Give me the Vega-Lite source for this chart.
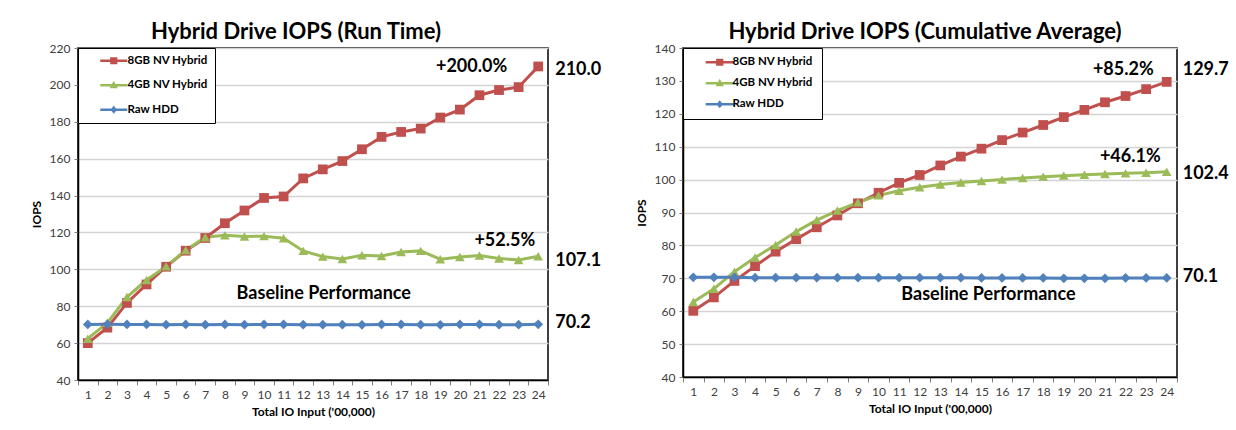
{
  "$schema": "https://vega.github.io/schema/vega-lite/v6.json",
  "padding": {"left": 29, "top": 20, "right": 0, "bottom": 0},
  "background": "white",
  "config": {
    "font": "Lato",
    "view": {"stroke": "black", "strokeWidth": 1.5},
    "title": {"font": "Lato", "fontSize": 22, "fontWeight": "bold", "color": "black", "offset": -2, "anchor": "middle"},
    "axis": {"labelFont": "Lato", "labelFontSize": 12, "labelColor": "#404040", "titleFont": "Lato", "titleFontSize": 12, "titleFontWeight": "bold", "titleColor": "black", "tickColor": "#808080", "domainColor": "black", "domainWidth": 1.5, "gridColor": "#D4D4D4", "gridWidth": 1.5},
    "legend": {"labelFont": "Lato", "labelFontSize": 11.5, "labelFontWeight": "bold", "labelColor": "black"}
  },
  "datasets": {
    "runtime": [
      {"io": 1, "series": "8GB NV Hybrid", "iops": 60.0}, {"io": 2, "series": "8GB NV Hybrid", "iops": 68.4}, {"io": 3, "series": "8GB NV Hybrid", "iops": 81.8}, {"io": 4, "series": "8GB NV Hybrid", "iops": 91.8},
      {"io": 5, "series": "8GB NV Hybrid", "iops": 101.4}, {"io": 6, "series": "8GB NV Hybrid", "iops": 110.1}, {"io": 7, "series": "8GB NV Hybrid", "iops": 117.0}, {"io": 8, "series": "8GB NV Hybrid", "iops": 125.0},
      {"io": 9, "series": "8GB NV Hybrid", "iops": 131.9}, {"io": 10, "series": "8GB NV Hybrid", "iops": 138.7}, {"io": 11, "series": "8GB NV Hybrid", "iops": 139.5}, {"io": 12, "series": "8GB NV Hybrid", "iops": 149.3},
      {"io": 13, "series": "8GB NV Hybrid", "iops": 154.2}, {"io": 14, "series": "8GB NV Hybrid", "iops": 158.7}, {"io": 15, "series": "8GB NV Hybrid", "iops": 165.1}, {"io": 16, "series": "8GB NV Hybrid", "iops": 171.8},
      {"io": 17, "series": "8GB NV Hybrid", "iops": 174.5}, {"io": 18, "series": "8GB NV Hybrid", "iops": 176.3}, {"io": 19, "series": "8GB NV Hybrid", "iops": 182.3}, {"io": 20, "series": "8GB NV Hybrid", "iops": 186.6},
      {"io": 21, "series": "8GB NV Hybrid", "iops": 194.4}, {"io": 22, "series": "8GB NV Hybrid", "iops": 197.2}, {"io": 23, "series": "8GB NV Hybrid", "iops": 198.8}, {"io": 24, "series": "8GB NV Hybrid", "iops": 210.0},
      {"io": 1, "series": "4GB NV Hybrid", "iops": 62.4}, {"io": 2, "series": "4GB NV Hybrid", "iops": 71.0}, {"io": 3, "series": "4GB NV Hybrid", "iops": 85.0}, {"io": 4, "series": "4GB NV Hybrid", "iops": 94.2},
      {"io": 5, "series": "4GB NV Hybrid", "iops": 101.6}, {"io": 6, "series": "4GB NV Hybrid", "iops": 110.4}, {"io": 7, "series": "4GB NV Hybrid", "iops": 117.4}, {"io": 8, "series": "4GB NV Hybrid", "iops": 118.5},
      {"io": 9, "series": "4GB NV Hybrid", "iops": 117.8}, {"io": 10, "series": "4GB NV Hybrid", "iops": 118.0}, {"io": 11, "series": "4GB NV Hybrid", "iops": 116.9}, {"io": 12, "series": "4GB NV Hybrid", "iops": 110.0},
      {"io": 13, "series": "4GB NV Hybrid", "iops": 106.9}, {"io": 14, "series": "4GB NV Hybrid", "iops": 105.6}, {"io": 15, "series": "4GB NV Hybrid", "iops": 107.6}, {"io": 16, "series": "4GB NV Hybrid", "iops": 107.2},
      {"io": 17, "series": "4GB NV Hybrid", "iops": 109.4}, {"io": 18, "series": "4GB NV Hybrid", "iops": 110.0}, {"io": 19, "series": "4GB NV Hybrid", "iops": 105.5}, {"io": 20, "series": "4GB NV Hybrid", "iops": 106.7},
      {"io": 21, "series": "4GB NV Hybrid", "iops": 107.5}, {"io": 22, "series": "4GB NV Hybrid", "iops": 105.9}, {"io": 23, "series": "4GB NV Hybrid", "iops": 105.1}, {"io": 24, "series": "4GB NV Hybrid", "iops": 107.1},
      {"io": 1, "series": "Raw HDD", "iops": 70.1}, {"io": 2, "series": "Raw HDD", "iops": 70.2}, {"io": 3, "series": "Raw HDD", "iops": 70.1}, {"io": 4, "series": "Raw HDD", "iops": 70.1},
      {"io": 5, "series": "Raw HDD", "iops": 70.0}, {"io": 6, "series": "Raw HDD", "iops": 70.1}, {"io": 7, "series": "Raw HDD", "iops": 70.0}, {"io": 8, "series": "Raw HDD", "iops": 70.1},
      {"io": 9, "series": "Raw HDD", "iops": 70.0}, {"io": 10, "series": "Raw HDD", "iops": 70.1}, {"io": 11, "series": "Raw HDD", "iops": 70.1}, {"io": 12, "series": "Raw HDD", "iops": 70.0},
      {"io": 13, "series": "Raw HDD", "iops": 70.0}, {"io": 14, "series": "Raw HDD", "iops": 70.0}, {"io": 15, "series": "Raw HDD", "iops": 69.9}, {"io": 16, "series": "Raw HDD", "iops": 70.1},
      {"io": 17, "series": "Raw HDD", "iops": 70.1}, {"io": 18, "series": "Raw HDD", "iops": 70.0}, {"io": 19, "series": "Raw HDD", "iops": 69.9}, {"io": 20, "series": "Raw HDD", "iops": 70.1},
      {"io": 21, "series": "Raw HDD", "iops": 70.1}, {"io": 22, "series": "Raw HDD", "iops": 70.0}, {"io": 23, "series": "Raw HDD", "iops": 70.0}, {"io": 24, "series": "Raw HDD", "iops": 70.2}
    ],
    "cumavg": [
      {"io": 1, "series": "8GB NV Hybrid", "iops": 60.1}, {"io": 2, "series": "8GB NV Hybrid", "iops": 64.2}, {"io": 3, "series": "8GB NV Hybrid", "iops": 69.2}, {"io": 4, "series": "8GB NV Hybrid", "iops": 73.7},
      {"io": 5, "series": "8GB NV Hybrid", "iops": 78.1}, {"io": 6, "series": "8GB NV Hybrid", "iops": 81.9}, {"io": 7, "series": "8GB NV Hybrid", "iops": 85.5}, {"io": 8, "series": "8GB NV Hybrid", "iops": 89.1},
      {"io": 9, "series": "8GB NV Hybrid", "iops": 92.8}, {"io": 10, "series": "8GB NV Hybrid", "iops": 96.0}, {"io": 11, "series": "8GB NV Hybrid", "iops": 99.0}, {"io": 12, "series": "8GB NV Hybrid", "iops": 101.4},
      {"io": 13, "series": "8GB NV Hybrid", "iops": 104.3}, {"io": 14, "series": "8GB NV Hybrid", "iops": 107.0}, {"io": 15, "series": "8GB NV Hybrid", "iops": 109.4}, {"io": 16, "series": "8GB NV Hybrid", "iops": 112.0},
      {"io": 17, "series": "8GB NV Hybrid", "iops": 114.3}, {"io": 18, "series": "8GB NV Hybrid", "iops": 116.6}, {"io": 19, "series": "8GB NV Hybrid", "iops": 119.0}, {"io": 20, "series": "8GB NV Hybrid", "iops": 121.2},
      {"io": 21, "series": "8GB NV Hybrid", "iops": 123.5}, {"io": 22, "series": "8GB NV Hybrid", "iops": 125.4}, {"io": 23, "series": "8GB NV Hybrid", "iops": 127.5}, {"io": 24, "series": "8GB NV Hybrid", "iops": 129.7},
      {"io": 1, "series": "4GB NV Hybrid", "iops": 62.8}, {"io": 2, "series": "4GB NV Hybrid", "iops": 66.8}, {"io": 3, "series": "4GB NV Hybrid", "iops": 72.0}, {"io": 4, "series": "4GB NV Hybrid", "iops": 76.3},
      {"io": 5, "series": "4GB NV Hybrid", "iops": 80.1}, {"io": 6, "series": "4GB NV Hybrid", "iops": 84.2}, {"io": 7, "series": "4GB NV Hybrid", "iops": 87.7}, {"io": 8, "series": "4GB NV Hybrid", "iops": 90.6},
      {"io": 9, "series": "4GB NV Hybrid", "iops": 93.1}, {"io": 10, "series": "4GB NV Hybrid", "iops": 95.2}, {"io": 11, "series": "4GB NV Hybrid", "iops": 96.6}, {"io": 12, "series": "4GB NV Hybrid", "iops": 97.7},
      {"io": 13, "series": "4GB NV Hybrid", "iops": 98.5}, {"io": 14, "series": "4GB NV Hybrid", "iops": 99.1}, {"io": 15, "series": "4GB NV Hybrid", "iops": 99.6}, {"io": 16, "series": "4GB NV Hybrid", "iops": 100.0},
      {"io": 17, "series": "4GB NV Hybrid", "iops": 100.5}, {"io": 18, "series": "4GB NV Hybrid", "iops": 100.9}, {"io": 19, "series": "4GB NV Hybrid", "iops": 101.2}, {"io": 20, "series": "4GB NV Hybrid", "iops": 101.5},
      {"io": 21, "series": "4GB NV Hybrid", "iops": 101.7}, {"io": 22, "series": "4GB NV Hybrid", "iops": 101.9}, {"io": 23, "series": "4GB NV Hybrid", "iops": 102.1}, {"io": 24, "series": "4GB NV Hybrid", "iops": 102.4},
      {"io": 1, "series": "Raw HDD", "iops": 70.3}, {"io": 2, "series": "Raw HDD", "iops": 70.3}, {"io": 3, "series": "Raw HDD", "iops": 70.3}, {"io": 4, "series": "Raw HDD", "iops": 70.2},
      {"io": 5, "series": "Raw HDD", "iops": 70.2}, {"io": 6, "series": "Raw HDD", "iops": 70.2}, {"io": 7, "series": "Raw HDD", "iops": 70.2}, {"io": 8, "series": "Raw HDD", "iops": 70.2},
      {"io": 9, "series": "Raw HDD", "iops": 70.2}, {"io": 10, "series": "Raw HDD", "iops": 70.2}, {"io": 11, "series": "Raw HDD", "iops": 70.2}, {"io": 12, "series": "Raw HDD", "iops": 70.2},
      {"io": 13, "series": "Raw HDD", "iops": 70.2}, {"io": 14, "series": "Raw HDD", "iops": 70.2}, {"io": 15, "series": "Raw HDD", "iops": 70.1}, {"io": 16, "series": "Raw HDD", "iops": 70.1},
      {"io": 17, "series": "Raw HDD", "iops": 70.1}, {"io": 18, "series": "Raw HDD", "iops": 70.1}, {"io": 19, "series": "Raw HDD", "iops": 70.0}, {"io": 20, "series": "Raw HDD", "iops": 70.0},
      {"io": 21, "series": "Raw HDD", "iops": 70.0}, {"io": 22, "series": "Raw HDD", "iops": 70.1}, {"io": 23, "series": "Raw HDD", "iops": 70.1}, {"io": 24, "series": "Raw HDD", "iops": 70.1}
    ],
    "ann_rt": [
      {"io": 24, "iops": 210.0, "label": "+200.0%"},
      {"io": 24, "iops": 210.0, "label": "210.0"},
      {"io": 24, "iops": 107.1, "label": "+52.5%"},
      {"io": 24, "iops": 107.1, "label": "107.1"},
      {"io": 24, "iops": 70.2, "label": "70.2"},
      {"io": 13, "iops": 70.0, "label": "Baseline Performance"}
    ],
    "ann_ca": [
      {"io": 24, "iops": 129.7, "label": "+85.2%"},
      {"io": 24, "iops": 129.7, "label": "129.7"},
      {"io": 24, "iops": 102.4, "label": "+46.1%"},
      {"io": 24, "iops": 102.4, "label": "102.4"},
      {"io": 24, "iops": 70.1, "label": "70.1"},
      {"io": 15, "iops": 70.1, "label": "Baseline Performance"}
    ]
  },
  "resolve": {"scale": {"color": "independent", "shape": "independent"}, "legend": {"color": "independent", "shape": "independent"}},
  "spacing": 32,
  "hconcat": [
    {
      "width": 470,
      "height": 332,
      "title": {"text": "Hybrid Drive IOPS (Run Time)", "dx": -17},
      "encoding": {
        "x": {"field": "io", "type": "ordinal", "sort": null, "scale": {"type": "band", "paddingInner": 0, "paddingOuter": 0},
              "axis": {"title": "Total IO Input ('00,000)", "labelAngle": 0, "tickBand": "extent", "tickSize": 5, "labelPadding": 4, "titlePadding": 6, "grid": false}},
        "y": {"field": "iops", "type": "quantitative", "scale": {"domain": [40, 220], "nice": false, "zero": false},
              "axis": {"title": "IOPS", "values": [40, 60, 80, 100, 120, 140, 160, 180, 200, 220], "tickSize": 4, "labelPadding": 4, "titlePadding": 6, "grid": true}}
      },
      "resolve": {"scale": {"color": "independent", "shape": "independent"}},
      "layer": [
        {
          "data": {"name": "runtime"},
          "mark": {"type": "point", "filled": true, "opacity": 0},
          "encoding": {
            "color": {"field": "series", "type": "nominal",
                      "scale": {"domain": ["8GB NV Hybrid", "4GB NV Hybrid", "Raw HDD"], "range": ["#C0504D", "#9BBB59", "#4F81BD"]},
                      "legend": {"title": null, "orient": "top-left", "offset": 0, "padding": 7, "strokeColor": "black", "fillColor": "white",
                                 "symbolSize": 36, "symbolOpacity": 1, "symbolStrokeWidth": 0, "symbolOffset": 23, "labelOffset": 8, "rowPadding": 11.5}},
            "shape": {"field": "series", "type": "nominal",
                      "scale": {"domain": ["8GB NV Hybrid", "4GB NV Hybrid", "Raw HDD"], "range": ["M-4.5,-0.4H4.5V0.4H-4.5Z M-1.2,-1.2H1.2V1.2H-1.2Z", "M-4.5,-0.4H4.5V0.4H-4.5Z M0,-1.5L1.35,1H-1.35Z", "M-4.5,-0.4H4.5V0.4H-4.5Z M0,-1.3L1.1,0L0,1.3L-1.1,0Z"]},
                      "legend": {"title": null, "orient": "top-left", "offset": 0, "padding": 7, "strokeColor": "black", "fillColor": "white",
                                 "symbolSize": 36, "symbolOpacity": 1, "symbolStrokeWidth": 0, "symbolOffset": 23, "labelOffset": 8, "rowPadding": 11.5}}
          }
        },
        {
          "data": {"name": "runtime"},
          "mark": {"type": "line", "strokeWidth": 3},
          "encoding": {
            "color": {"field": "series", "type": "nominal",
                      "scale": {"domain": ["8GB NV Hybrid", "4GB NV Hybrid", "Raw HDD"], "range": ["#C0504D", "#9BBB59", "#4F81BD"]}, "legend": null}
          }
        },
        {
          "data": {"name": "runtime"},
          "mark": {"type": "point", "filled": true, "opacity": 1, "size": 95},
          "encoding": {
            "color": {"field": "series", "type": "nominal", "scale": {"domain": ["8GB NV Hybrid", "4GB NV Hybrid", "Raw HDD"], "range": ["#C0504D", "#9BBB59", "#4F81BD"]}, "legend": null},
            "shape": {"field": "series", "type": "nominal", "scale": {"domain": ["8GB NV Hybrid", "4GB NV Hybrid", "Raw HDD"], "range": ["square", "triangle-up", "diamond"]}, "legend": null}
          }
        },
        {"data": {"name": "ann_rt"}, "transform": [{"filter": "datum.label === '+200.0%'"}],
         "mark": {"type": "text", "font": "Lato", "fontSize": 18, "fontWeight": "bold", "align": "right", "baseline": "middle", "dx": -31, "dy": 1, "color": "black"},
         "encoding": {"text": {"field": "label"}}},
        {"data": {"name": "ann_rt"}, "transform": [{"filter": "datum.label === '210.0'"}],
         "mark": {"type": "text", "font": "Lato", "fontSize": 18, "fontWeight": "bold", "align": "left", "baseline": "middle", "dx": 17, "dy": 4, "color": "black"},
         "encoding": {"text": {"field": "label"}}},
        {"data": {"name": "ann_rt"}, "transform": [{"filter": "datum.label === '+52.5%'"}],
         "mark": {"type": "text", "font": "Lato", "fontSize": 18, "fontWeight": "bold", "align": "right", "baseline": "middle", "dx": -3, "dy": -15, "color": "black"},
         "encoding": {"text": {"field": "label"}}},
        {"data": {"name": "ann_rt"}, "transform": [{"filter": "datum.label === '107.1'"}],
         "mark": {"type": "text", "font": "Lato", "fontSize": 18, "fontWeight": "bold", "align": "left", "baseline": "middle", "dx": 17, "dy": 5, "color": "black"},
         "encoding": {"text": {"field": "label"}}},
        {"data": {"name": "ann_rt"}, "transform": [{"filter": "datum.label === '70.2'"}],
         "mark": {"type": "text", "font": "Lato", "fontSize": 18, "fontWeight": "bold", "align": "left", "baseline": "middle", "dx": 17, "dy": -1, "color": "black"},
         "encoding": {"text": {"field": "label"}}},
        {"data": {"name": "ann_rt"}, "transform": [{"filter": "datum.label === 'Baseline Performance'"}],
         "mark": {"type": "text", "font": "Lato", "fontSize": 18, "fontWeight": "bold", "align": "center", "baseline": "middle", "dx": 1, "dy": -31, "color": "black"},
         "encoding": {"text": {"field": "label"}}}
      ]
    },
    {
      "width": 494,
      "height": 329,
      "title": {"text": "Hybrid Drive IOPS (Cumulative Average)", "dx": -5},
      "encoding": {
        "x": {"field": "io", "type": "ordinal", "sort": null, "scale": {"type": "band", "paddingInner": 0, "paddingOuter": 0},
              "axis": {"title": "Total IO Input ('00,000)", "labelAngle": 0, "tickBand": "extent", "tickSize": 5, "labelPadding": 4, "titlePadding": 6, "grid": false}},
        "y": {"field": "iops", "type": "quantitative", "scale": {"domain": [40, 140], "nice": false, "zero": false},
              "axis": {"title": "IOPS", "values": [40, 50, 60, 70, 80, 90, 100, 110, 120, 130, 140], "tickSize": 4, "labelPadding": 4, "titlePadding": 6, "grid": true}}
      },
      "resolve": {"scale": {"color": "independent", "shape": "independent"}},
      "layer": [
        {
          "data": {"name": "cumavg"},
          "mark": {"type": "point", "filled": true, "opacity": 0},
          "encoding": {
            "color": {"field": "series", "type": "nominal",
                      "scale": {"domain": ["8GB NV Hybrid", "4GB NV Hybrid", "Raw HDD"], "range": ["#C0504D", "#9BBB59", "#4F81BD"]},
                      "legend": {"title": null, "orient": "top-left", "offset": 0, "padding": 8.5, "strokeColor": "black", "fillColor": "white",
                                 "symbolSize": 36, "symbolOpacity": 1, "symbolStrokeWidth": 0, "symbolOffset": 22.5, "labelOffset": 7, "rowPadding": 8}},
            "shape": {"field": "series", "type": "nominal",
                      "scale": {"domain": ["8GB NV Hybrid", "4GB NV Hybrid", "Raw HDD"], "range": ["M-4.7,-0.4H4.7V0.4H-4.7Z M-1.2,-1.2H1.2V1.2H-1.2Z", "M-4.7,-0.4H4.7V0.4H-4.7Z M0,-1.5L1.35,1H-1.35Z", "M-4.7,-0.4H4.7V0.4H-4.7Z M0,-1.3L1.1,0L0,1.3L-1.1,0Z"]},
                      "legend": {"title": null, "orient": "top-left", "offset": 0, "padding": 8.5, "strokeColor": "black", "fillColor": "white",
                                 "symbolSize": 36, "symbolOpacity": 1, "symbolStrokeWidth": 0, "symbolOffset": 22.5, "labelOffset": 7, "rowPadding": 8}}
          }
        },
        {
          "data": {"name": "cumavg"},
          "mark": {"type": "line", "strokeWidth": 3},
          "encoding": {
            "color": {"field": "series", "type": "nominal",
                      "scale": {"domain": ["8GB NV Hybrid", "4GB NV Hybrid", "Raw HDD"], "range": ["#C0504D", "#9BBB59", "#4F81BD"]}, "legend": null}
          }
        },
        {
          "data": {"name": "cumavg"},
          "mark": {"type": "point", "filled": true, "opacity": 1, "size": 95},
          "encoding": {
            "color": {"field": "series", "type": "nominal", "scale": {"domain": ["8GB NV Hybrid", "4GB NV Hybrid", "Raw HDD"], "range": ["#C0504D", "#9BBB59", "#4F81BD"]}, "legend": null},
            "shape": {"field": "series", "type": "nominal", "scale": {"domain": ["8GB NV Hybrid", "4GB NV Hybrid", "Raw HDD"], "range": ["square", "triangle-up", "diamond"]}, "legend": null}
          }
        },
        {"data": {"name": "ann_ca"}, "transform": [{"filter": "datum.label === '+85.2%'"}],
         "mark": {"type": "text", "font": "Lato", "fontSize": 18, "fontWeight": "bold", "align": "right", "baseline": "middle", "dx": -13, "dy": -12, "color": "black"},
         "encoding": {"text": {"field": "label"}}},
        {"data": {"name": "ann_ca"}, "transform": [{"filter": "datum.label === '129.7'"}],
         "mark": {"type": "text", "font": "Lato", "fontSize": 18, "fontWeight": "bold", "align": "left", "baseline": "middle", "dx": 16, "dy": -12, "color": "black"},
         "encoding": {"text": {"field": "label"}}},
        {"data": {"name": "ann_ca"}, "transform": [{"filter": "datum.label === '+46.1%'"}],
         "mark": {"type": "text", "font": "Lato", "fontSize": 18, "fontWeight": "bold", "align": "right", "baseline": "middle", "dx": -6, "dy": -15, "color": "black"},
         "encoding": {"text": {"field": "label"}}},
        {"data": {"name": "ann_ca"}, "transform": [{"filter": "datum.label === '102.4'"}],
         "mark": {"type": "text", "font": "Lato", "fontSize": 18, "fontWeight": "bold", "align": "left", "baseline": "middle", "dx": 16, "dy": 2, "color": "black"},
         "encoding": {"text": {"field": "label"}}},
        {"data": {"name": "ann_ca"}, "transform": [{"filter": "datum.label === '70.1'"}],
         "mark": {"type": "text", "font": "Lato", "fontSize": 18, "fontWeight": "bold", "align": "left", "baseline": "middle", "dx": 16, "dy": -1, "color": "black"},
         "encoding": {"text": {"field": "label"}}},
        {"data": {"name": "ann_ca"}, "transform": [{"filter": "datum.label === 'Baseline Performance'"}],
         "mark": {"type": "text", "font": "Lato", "fontSize": 18, "fontWeight": "bold", "align": "center", "baseline": "middle", "dx": 7, "dy": 17, "color": "black"},
         "encoding": {"text": {"field": "label"}}}
      ]
    }
  ]
}
